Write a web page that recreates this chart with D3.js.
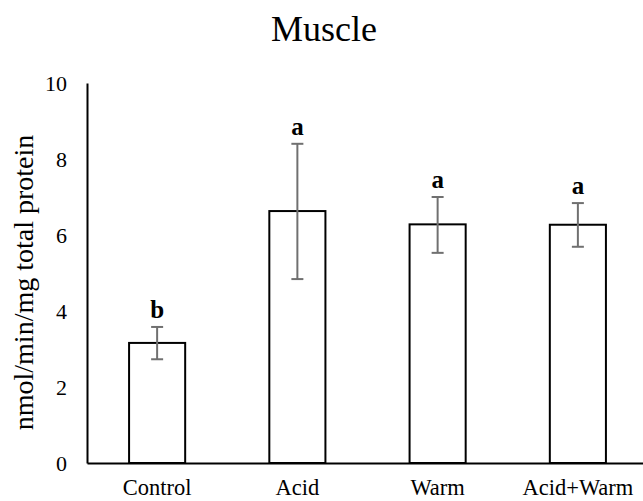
<!DOCTYPE html>
<html>
<head>
<meta charset="utf-8">
<script src="https://cdn.jsdelivr.net/npm/d3@7"></script>
<style>
  html, body { margin: 0; padding: 0; background: #fff; }
  svg { display: block; }
  svg text { font-family: "Liberation Serif", "Times New Roman", serif; }
</style>
</head>
<body>
<svg id="chart" width="643" height="501"></svg>
<script>
// Enzyme activity in muscle by treatment
const categories = ["Control", "Acid", "Warm", "Acid+Warm"];
const means = [3.16, 6.63, 6.28, 6.27];
const errUpper = [3.58, 8.40, 7.00, 6.84];
const errLower = [2.73, 4.84, 5.53, 5.69];
const groupLetters = ["b", "a", "a", "a"];
const yTicks = [0, 2, 4, 6, 8, 10];

const FONT = '"Liberation Serif", "Times New Roman", serif';
const svg = d3.select("#chart");
const margin = { left: 87, right: -5, top: 83, bottom: 38 };
const W = 643, H = 501;

const x = d3.scaleBand()
  .domain(categories)
  .range([margin.left, W - margin.right])
  .paddingInner(0.6)
  .paddingOuter(0.3);

const y = d3.scaleLinear()
  .domain([0, 10])
  .range([H - margin.bottom, margin.top]);

// Title
svg.append("text")
  .attr("x", 324).attr("y", 41)
  .attr("text-anchor", "middle")
  .style("font-size", "36px")
  .style("font-family", FONT)
  .text("Muscle");

// Y axis label
svg.append("text")
  .attr("transform", `translate(33, ${y(4.75)}) rotate(-90)`)
  .attr("text-anchor", "middle")
  .style("font-size", "28px")
  .style("font-family", FONT)
  .text("nmol/min/mg total protein");

// Y axis (line + labels only)
const yAxis = svg.append("g")
  .attr("transform", `translate(${margin.left},0)`)
  .call(d3.axisLeft(y).tickValues(yTicks).tickSize(0).tickPadding(20).tickFormat(d3.format("d")));
yAxis.select(".domain").attr("stroke", "#000").attr("stroke-width", 2);
yAxis.selectAll("text").style("font-size", "22px").style("font-family", FONT).attr("fill", "#000");

// Bars
svg.append("g").selectAll("rect")
  .data(categories)
  .join("rect")
  .attr("x", d => x(d))
  .attr("y", (d, i) => y(means[i]))
  .attr("width", x.bandwidth())
  .attr("height", (d, i) => y(0) - y(means[i]))
  .attr("fill", "#fff")
  .attr("stroke", "#000")
  .attr("stroke-width", 2);

// X axis
const xAxis = svg.append("g")
  .attr("transform", `translate(0,${y(0)})`)
  .call(d3.axisBottom(x).tickSize(0).tickPadding(16));
xAxis.select(".domain").attr("stroke", "#000").attr("stroke-width", 2);
xAxis.selectAll("text").style("font-size", "22.5px").style("font-family", FONT).attr("fill", "#000");

// Error bars
const eb = svg.append("g").attr("stroke", "#707070").attr("stroke-width", 2);
categories.forEach((c, i) => {
  const cx = x(c) + x.bandwidth() / 2;
  eb.append("line").attr("x1", cx).attr("x2", cx).attr("y1", y(errUpper[i])).attr("y2", y(errLower[i]));
  eb.append("line").attr("x1", cx - 6).attr("x2", cx + 6).attr("y1", y(errUpper[i])).attr("y2", y(errUpper[i]));
  eb.append("line").attr("x1", cx - 6).attr("x2", cx + 6).attr("y1", y(errLower[i])).attr("y2", y(errLower[i]));
});

// Significance letters
svg.append("g").selectAll("text")
  .data(categories)
  .join("text")
  .attr("x", d => x(d) + x.bandwidth() / 2)
  .attr("y", (d, i) => y(errUpper[i]) - 9)
  .attr("text-anchor", "middle")
  .style("font-size", "25px")
  .style("font-weight", "bold")
  .style("font-family", FONT)
  .text((d, i) => groupLetters[i]);
</script>
</body>
</html>
